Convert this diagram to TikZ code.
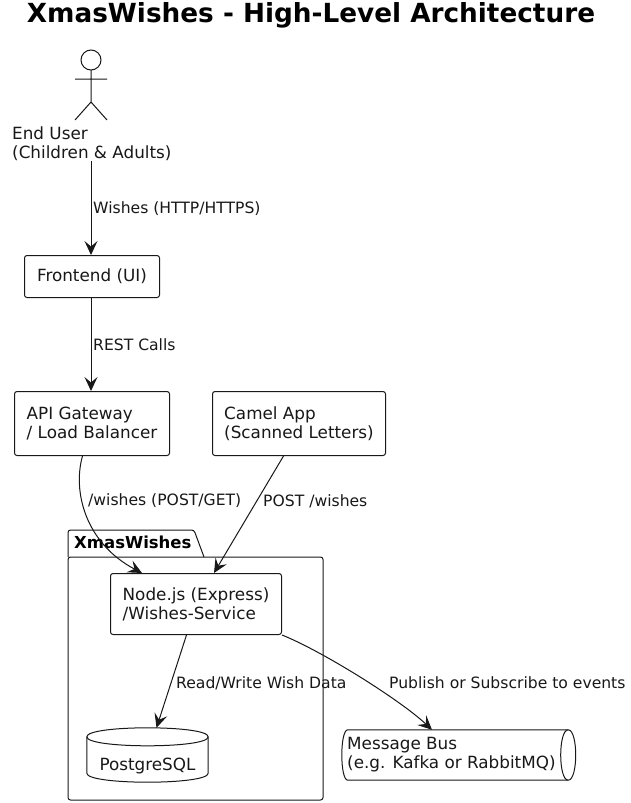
\documentclass[tikz,border=0pt]{standalone}
\usepackage{fontspec}
\setmainfont{DejaVu Sans}
\usetikzlibrary{arrows.meta,calc}
\definecolor{ink}{HTML}{181818}
\tikzset{
  base/.style={text=ink,font=\fontsize{16.8}{19}\selectfont,align=left},
  box/.style={base,draw=ink,line width=1pt,rounded corners=2.5pt,fill=white,inner sep=0pt,anchor=north west},
  edgelabel/.style={text=ink,font=\fontsize{15.6}{18}\selectfont,anchor=west,inner sep=0pt},
  conn/.style={draw=ink,line width=1pt,-{Stealth[length=14pt,width=13pt,inset=5.5pt]}},
  shapeline/.style={draw=ink,line width=1pt},
}
\begin{document}
\begin{tikzpicture}[x=1pt,y=-1pt]
\useasboundingbox (0,0) rectangle (631,803);
\fill[white] (0,0) rectangle (631,803);
% title
\node[font=\bfseries\fontsize{26.3}{30}\selectfont,text=black,inner sep=0pt] (title) at (311,15.5) {XmasWishes - High-Level Architecture};
% actor
\draw[shapeline,fill=white] (91,60) circle (10);
\draw[shapeline] (91,70) -- (91,102) (75,79) -- (107,79) (75,120) -- (91,102) -- (107,120);
\node[base,anchor=north west,inner sep=0pt] (user) at (12,126.5) {End User\\(Children \& Adults)};
% package
\draw[shapeline,rounded corners=2.5pt] (68,557) -- (68,530) -- (194,530) -- (204,557);
\draw[shapeline,rounded corners=2.5pt] (68,557) rectangle (323,800);
\node[font=\bfseries\fontsize{16.5}{18}\selectfont,text=black,anchor=west,inner sep=0pt] (pkg) at (74,542) {XmasWishes};
% boxes
\node[box,minimum width=135pt,minimum height=42pt] (front) at (24,255) {Frontend (UI)};
\node[box,minimum width=155pt,minimum height=64pt] (api) at (14,391) {API Gateway\\/ Load Balancer};
\node[box,minimum width=173pt,minimum height=64pt] (camel) at (212,391) {Camel App\\(Scanned Letters)};
\node[box,minimum width=171pt,minimum height=61pt] (svc) at (110,573) {Node.js (Express)\\/Wishes-Service};
% database
\node[base,inner sep=0pt,minimum width=121pt,minimum height=54pt] (db) at (147.5,755) {};
\draw[shapeline,fill=white] (db.north west) ++(0,9)
  .. controls ($(db.north west)+(0,-3)$) and ($(db.north east)+(0,-3)$) .. ($(db.north east)+(0,9)$)
  -- ($(db.south east)+(0,-9)$)
  .. controls ($(db.south east)+(0,3)$) and ($(db.south west)+(0,3)$) .. ($(db.south west)+(0,-9)$) -- cycle;
\draw[shapeline] ($(db.north west)+(0,9)$) .. controls ($(db.north west)+(0,21)$) and ($(db.north east)+(0,21)$) .. ($(db.north east)+(0,9)$);
\node[base,inner sep=0pt] (dbtext) at (147.5,766.5) {PostgreSQL};
% message bus
\node[base,inner sep=0pt,minimum width=230pt,minimum height=50pt] (bus) at (458,755) {};
\draw[shapeline,fill=white] ($(bus.north west)+(5,0)$) -- ($(bus.north east)+(-5,0)$)
  .. controls ($(bus.north east)+(5,0)$) and ($(bus.south east)+(5,0)$) .. ($(bus.south east)+(-5,0)$)
  -- ($(bus.south west)+(5,0)$)
  .. controls ($(bus.south west)+(-3,0)$) and ($(bus.north west)+(-3,0)$) .. ($(bus.north west)+(5,0)$) -- cycle;
\draw[shapeline] ($(bus.north east)+(-5,0)$) .. controls ($(bus.north east)+(-15,0)$) and ($(bus.south east)+(-15,0)$) .. ($(bus.south east)+(-5,0)$);
\node[base,anchor=west,inner sep=0pt] (bustext) at (347,755) {Message Bus\\(e.g. Kafka or RabbitMQ)};
% connectors
\coordinate (userout) at (91,161);
\draw[conn] (userout) -- (userout |- front.north);
\draw[conn] (91,0 |- front.south) -- (91,0 |- api.north);
\draw[conn] ([xshift=-9.5pt]api.south) .. controls ($(api.south)+(-19.5,35)$) and ($(svc.north west)+(-25,-30)$) .. ([xshift=32pt]svc.north west);
\draw[conn] ([xshift=-15.5pt]camel.south) -- ([xshift=104pt]svc.north west);
\draw[conn] ([xshift=-9.5pt]svc.south) -- ([xshift=9pt]db.north);
\draw[conn] (svc.south east) .. controls ($(svc.south east)+(40,16)$) and ($(bus.north)+(-58,-30)$) .. ([xshift=-26pt]bus.north);
% labels
\node[edgelabel] (l1) at (93,209) {Wishes (HTTP/HTTPS)};
\node[edgelabel] (l2) at (93,345) {REST Calls};
\node[edgelabel] (l3) at (88,501) {/wishes (POST/GET)};
\node[edgelabel] (l4) at (263,501) {POST /wishes};
\node[edgelabel] (l5) at (176,683) {Read/Write Wish Data};
\node[edgelabel] (l6) at (389,683) {Publish or Subscribe to events};
\end{tikzpicture}
\end{document}
